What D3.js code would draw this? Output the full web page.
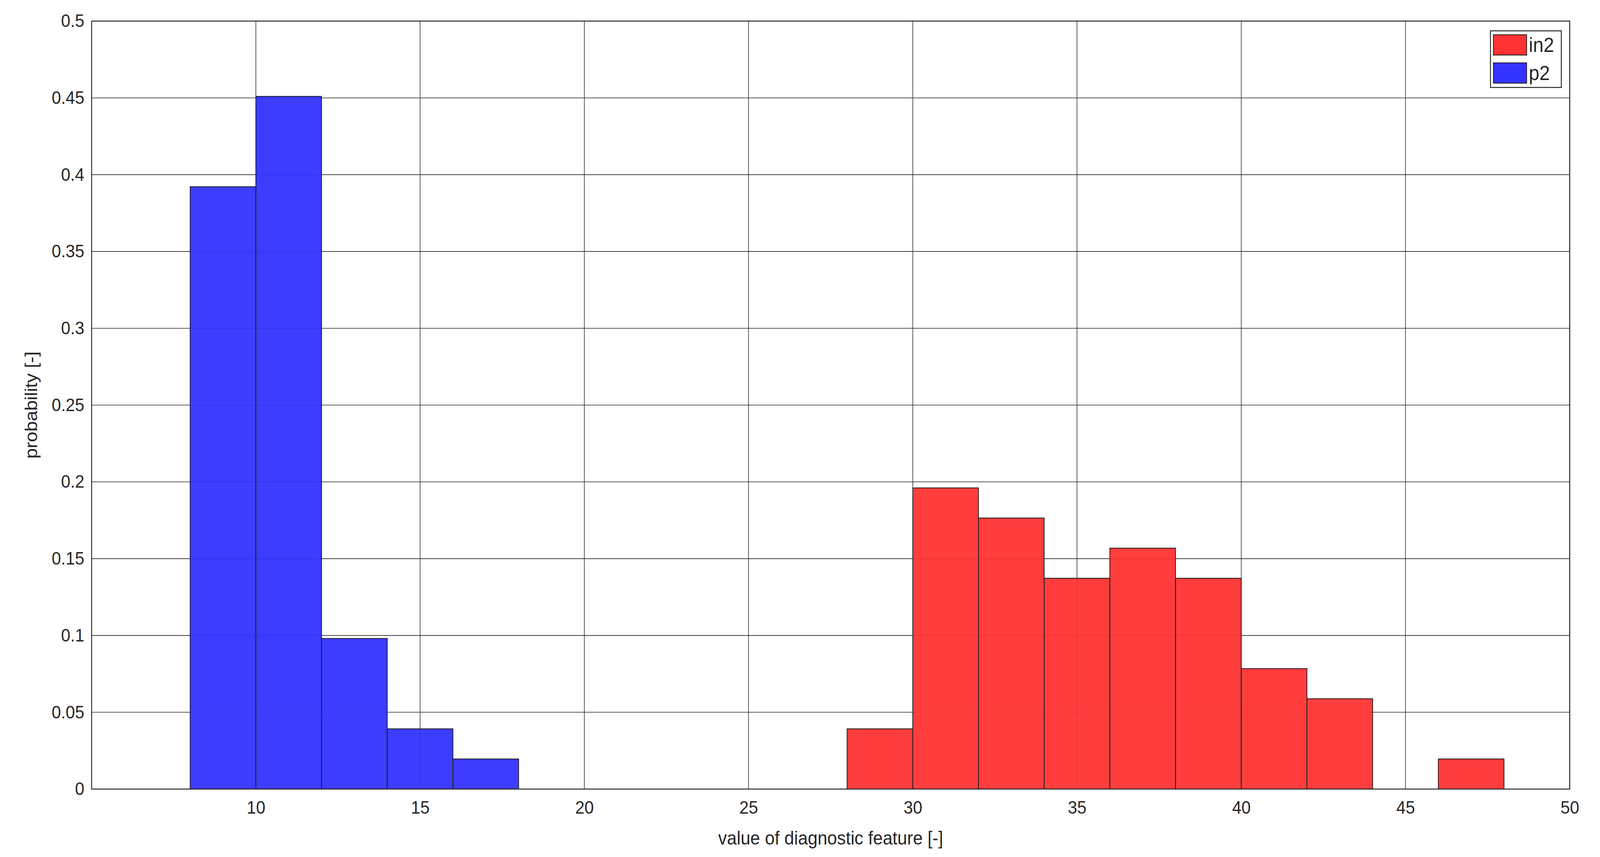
<!DOCTYPE html>
<html>
<head>
<meta charset="utf-8">
<script src="https://cdn.jsdelivr.net/npm/d3@7"></script>
<style>
  html, body { margin: 0; padding: 0; background: #fff; overflow: hidden; }
  svg { display: block; width: 100vw; height: 100vh; }
  text { font-family: "Liberation Sans", Arial, sans-serif; fill: #262626; }
</style>
</head>
<body>
<div id="chart"></div>
<script>
// histogram bins (width 2) and probabilities
const binWidth = 2;
const p2Start = [8, 10, 12, 14, 16];
const p2Values = [20 / 51, 23 / 51, 5 / 51, 2 / 51, 1 / 51];
const in2Start = [28, 30, 32, 34, 36, 38, 40, 42, 44, 46];
const in2Values = [2 / 51, 10 / 51, 9 / 51, 7 / 51, 8 / 51, 7 / 51, 4 / 51, 3 / 51, 0, 1 / 51];
const xTicks = [10, 15, 20, 25, 30, 35, 40, 45, 50];
const yTicks = [0, 0.05, 0.1, 0.15, 0.2, 0.25, 0.3, 0.35, 0.4, 0.45, 0.5];

const width = 4383, height = 2195;
const margin = { left: 251, right: width - 4300, top: 54, bottom: height - 2021 };

const svg = d3.select('#chart').append('svg')
    .attr('viewBox', `0 0 ${width} ${height}`)
    .attr('preserveAspectRatio', 'none');

const x = d3.scaleLinear().domain([5, 50]).range([margin.left, width - margin.right]);
const y = d3.scaleLinear().domain([0, 0.5]).range([height - margin.bottom, margin.top]);

// grid
svg.append('g').selectAll('line').data(xTicks).join('line')
    .attr('x1', d => x(d)).attr('x2', d => x(d))
    .attr('y1', y(0)).attr('y2', y(0.5))
    .attr('stroke', '#262626').attr('stroke-width', 1.6);
svg.append('g').selectAll('line').data(yTicks).join('line')
    .attr('x1', x(5)).attr('x2', x(50))
    .attr('y1', d => y(d)).attr('y2', d => y(d))
    .attr('stroke', '#262626').attr('stroke-width', 1.6);

function drawBars(starts, values, color) {
    svg.append('g').selectAll('rect').data(starts.map((s, i) => ({ s, v: values[i] })).filter(d => d.v > 0))
        .join('rect')
        .attr('x', d => x(d.s))
        .attr('width', d => x(d.s + binWidth) - x(d.s))
        .attr('y', d => y(d.v))
        .attr('height', d => y(0) - y(d.v))
        .attr('fill', color)
        .attr('fill-opacity', 0.95)
        .attr('stroke', '#1a1a1a')
        .attr('stroke-width', 2);
}
drawBars(p2Start, p2Values, '#3333ff');
drawBars(in2Start, in2Values, '#ff3333');

// axes box
svg.append('rect')
    .attr('x', x(5)).attr('y', y(0.5))
    .attr('width', x(50) - x(5)).attr('height', y(0) - y(0.5))
    .attr('fill', 'none').attr('stroke', '#262626').attr('stroke-width', 2.5);

const xAxis = svg.append('g')
    .attr('transform', `translate(0,${y(0)})`)
    .call(d3.axisBottom(x).tickValues(xTicks).tickSize(0).tickPadding(30).tickFormat(d3.format('d')));
const yAxis = svg.append('g')
    .attr('transform', `translate(${x(5)},0)`)
    .call(d3.axisLeft(y).tickValues(yTicks).tickSize(0).tickPadding(20).tickFormat(d => d === 0 ? '0' : String(+d.toFixed(2))));
[xAxis, yAxis].forEach(a => {
    a.select('.domain').remove();
    a.selectAll('text').attr('font-size', 46).style('font-family', '"Liberation Sans", Arial, sans-serif').attr('fill', '#262626');
});

svg.append('text')
    .attr('x', (x(5) + x(50)) / 2).attr('y', 2163)
    .attr('text-anchor', 'middle').attr('font-size', 48)
    .text('value of diagnostic feature [-]');
svg.append('text')
    .attr('transform', `translate(102,${(y(0) + y(0.5)) / 2}) rotate(-90)`)
    .attr('text-anchor', 'middle').attr('font-size', 48)
    .text('probability [-]');

// legend
const lg = svg.append('g');
lg.append('rect').attr('x', 4083).attr('y', 79).attr('width', 194).attr('height', 145)
    .attr('fill', '#fff').attr('stroke', '#262626').attr('stroke-width', 2.5);
const legendItems = [{ name: 'in2', color: '#ff3333' }, { name: 'p2', color: '#3333ff' }];
legendItems.forEach((d, i) => {
    lg.append('rect').attr('x', 4091).attr('y', 89 + i * 72).attr('width', 91).attr('height', 52)
        .attr('fill', d.color).attr('stroke', '#1a1a1a').attr('stroke-width', 2);
    lg.append('text').attr('x', 4188).attr('y', 133 + i * 72).attr('font-size', 52)
        .attr('fill', '#000').text(d.name);
});
</script>
</body>
</html>
